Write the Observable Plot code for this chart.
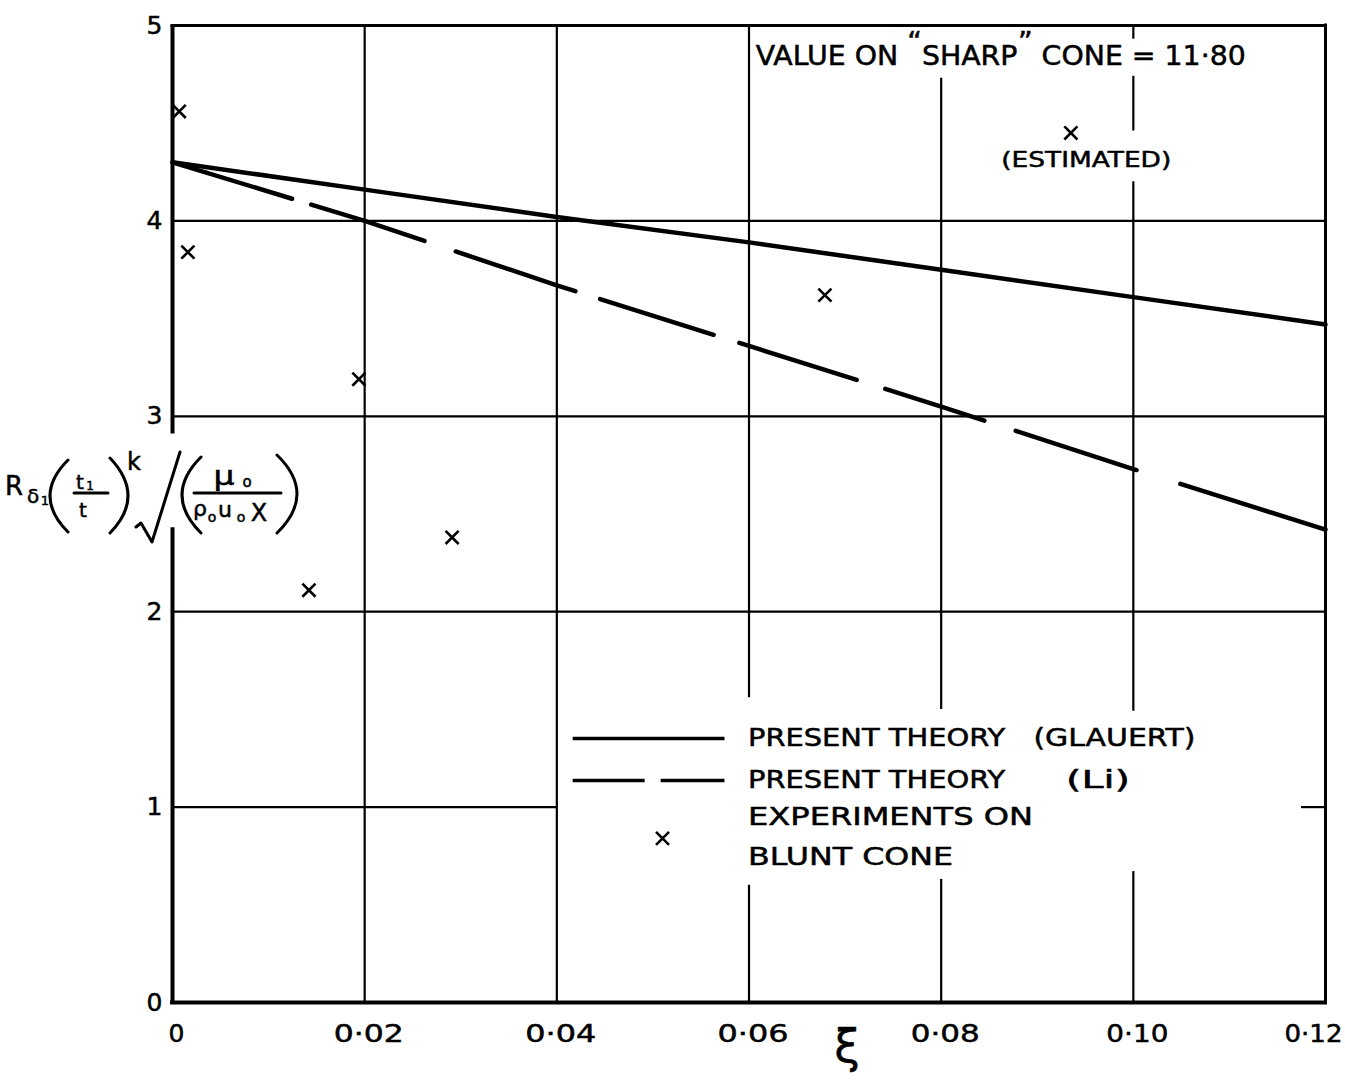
<!DOCTYPE html>
<html><head><meta charset="utf-8">
<script src="https://cdn.jsdelivr.net/npm/d3@7"></script>
<script src="https://cdn.jsdelivr.net/npm/@observablehq/plot@0.6"></script>
<style>
body{margin:0;background:#fff;}
#chart{width:1345px;height:1087px;}
</style></head><body><div id="chart"></div>
<script>
// ---------- data ----------
const xiTicks = [0, 0.02, 0.04, 0.06, 0.08, 0.10, 0.12];
const yTicks = [0, 1, 2, 3, 4, 5];

// Present theory (Glauert) – solid
const glauertXi = [0, 0.02, 0.04, 0.06, 0.08, 0.10, 0.12];
const glauertR  = [4.30, 4.16, 4.02, 3.89, 3.75, 3.61, 3.47];

// Present theory (Li) – dashed
const liXi = [0, 0.02, 0.04, 0.06, 0.08, 0.10, 0.12];
const liR  = [4.30, 4.00, 3.67, 3.36, 3.05, 2.73, 2.42];

// Experiments on blunt cone
const expXi = [0.0007, 0.0016, 0.0194, 0.0142, 0.0291, 0.0679];
const expR  = [4.56, 3.84, 3.19, 2.11, 2.38, 3.62];

// Estimated value
const estXi = [0.0935];
const estR  = [4.45];

const noteText = "VALUE ON “SHARP” CONE = 11·80";
const estText = "(ESTIMATED)";
const legendMain = ["PRESENT THEORY", "PRESENT THEORY", "EXPERIMENTS ON", "BLUNT CONE"];
const legendNote = ["(GLAUERT)", "(Li)"];
const xLabel = "ξ";

// ---------- layout (grid segments broken around the lettering) ----------
const vGrid = [
  [0.02, 0, 5], [0.04, 0, 5],
  [0.06, 0, 0.60], [0.06, 1.56, 5],
  [0.08, 0, 0.63], [0.08, 1.50, 4.73],
  [0.10, 0, 0.67], [0.10, 1.49, 4.20], [0.10, 4.46, 4.74], [0.10, 4.93, 5]
];
const hGrid = [
  [1, 0, 0.0400], [1, 0.1175, 0.12],
  [2, 0, 0.12], [3, 0, 0.12], [4, 0, 0.12]
];
const leftAxis = [[0, 2.43], [2.91, 5]];
const legendPos = {x1: 0.0417, x2: 0.0575, xText: 0.0599, rows: [1.351, 1.136, 0.947, 0.742],
                   noteX: [0.0896, 0.0930], markX: 0.0510, markY: 0.84};
// lettering widths (px) of the hand lettering
const textWidths = {
  "VALUE ON “SHARP” CONE = 11·80": 490, "(ESTIMATED)": 170,
  "PRESENT THEORY": 257, "(GLAUERT)": 162, "(Li)": 64,
  "EXPERIMENTS ON": 285, "BLUNT CONE": 205,
  "0·02": 70, "0·04": 71, "0·06": 71, "0·08": 69, "0·10": 62, "0·12": 58
};

const FONT = "DejaVu Sans, sans-serif";
const fmt = d => d === 0 ? "0" : d3.format(".2f")(d).replace(".", "·");

const chart = Plot.plot({
  width: 1345, height: 1087,
  marginLeft: 172, marginRight: 20, marginTop: 25, marginBottom: 85,
  x: {domain: [0, 0.12]},
  y: {domain: [0, 5]},
  style: {fontFamily: FONT, background: "white", color: "black"},
  marks: [
    // grid
    Plot.ruleX(vGrid, {x: d => d[0], y1: d => d[1], y2: d => d[2], stroke: "black", strokeWidth: 2.2}),
    Plot.ruleY(hGrid, {y: d => d[0], x1: d => d[1], x2: d => d[2], stroke: "black", strokeWidth: 2.2}),
    // frame
    Plot.ruleX(leftAxis, {x: () => 0, y1: d => d[0], y2: d => d[1], stroke: "black", strokeWidth: 4}),
    Plot.ruleY([0], {x1: () => 0, x2: () => 0.12, stroke: "black", strokeWidth: 4, strokeLinecap: "square"}),
    Plot.ruleY([5], {x1: () => 0, x2: () => 0.12, stroke: "black", strokeWidth: 3, strokeLinecap: "square"}),
    Plot.ruleX([0.12], {y1: () => 0, y2: () => 5, stroke: "black", strokeWidth: 3, strokeLinecap: "square"}),
    // theory curves
    Plot.line(glauertR, {x: glauertXi, y: glauertR, stroke: "black", strokeWidth: 4.5}),
    Plot.line(liR, {x: liXi, y: liR, stroke: "black", strokeWidth: 4.5,
      strokeDasharray: "125,20,119,33,126,26,119,27,123,30,104,33,127,46,170"}),
    // experiments
    Plot.dot(expR, {x: expXi, y: expR, symbol: "times", r: 6, stroke: "black", strokeWidth: 2.6}),
    Plot.dot(estR, {x: estXi, y: estR, symbol: "times", r: 6, stroke: "black", strokeWidth: 2.6}),
    // annotations
    Plot.text([noteText], {x: () => 0.0607, y: () => 4.842, text: d => d, textAnchor: "start", fontSize: 26}),
    Plot.text([estText], {x: () => 0.0951, y: () => 4.31, text: d => d, fontSize: 22}),
    // legend
    Plot.ruleY([legendPos.rows[0]], {x1: () => legendPos.x1, x2: () => legendPos.x2, stroke: "black", strokeWidth: 3.5}),
    Plot.ruleY([legendPos.rows[1]], {x1: () => legendPos.x1, x2: () => legendPos.x2, stroke: "black", strokeWidth: 3.5, strokeDasharray: "72,16"}),
    Plot.dot([legendPos.markY], {x: () => legendPos.markX, y: d => d, symbol: "times", r: 6, stroke: "black", strokeWidth: 2.6}),
    Plot.text(legendMain, {x: () => legendPos.xText, y: (d, i) => legendPos.rows[i], text: d => d, textAnchor: "start", fontSize: 24}),
    Plot.text(legendNote, {x: (d, i) => legendPos.noteX[i], y: (d, i) => legendPos.rows[i], text: d => d, textAnchor: "start", fontSize: 24}),
    // axes
    Plot.axisX(xiTicks, {tickSize: 0, tickPadding: 22, fontSize: 25, tickFormat: fmt, dx: 4}),
    Plot.axisY(yTicks, {tickSize: 0, tickPadding: 10, fontSize: 25, tickFormat: d => String(d)}),
    Plot.text([xLabel], {x: () => 0.0702, y: () => 0, text: d => d, fontSize: 46, dy: 45})
  ]
});
document.getElementById("chart").appendChild(chart);

const svg = d3.select(chart);
// hand lettering: wide letters, slightly heavy strokes
svg.selectAll("text").each(function () {
  const s = this.textContent;
  const el = d3.select(this).attr("stroke", "black").attr("stroke-width", 0.5);
  if (textWidths[s] != null) {
    el.attr("textLength", textWidths[s]).attr("lengthAdjust", "spacingAndGlyphs");
  }
});
// last tick label sits against the right edge of the sheet
svg.selectAll("text").filter(function () { return this.textContent === "0·12"; })
  .attr("text-anchor", "end").attr("dx", 13);
// raised quotation marks in the note
svg.selectAll("text").filter(function () { return this.textContent === noteText; }).each(function () {
  const el = d3.select(this);
  el.text(null);
  el.append("tspan").text("VALUE ON ");
  el.append("tspan").attr("dy", -14).text("“");
  el.append("tspan").attr("dy", 14).text("SHARP");
  el.append("tspan").attr("dy", -14).text("”");
  el.append("tspan").attr("dy", 14).text(" CONE = 11·80");
});

// ---------- y-axis label:  R_δ1 (t1/t)^k √(μ0/(ρ0 u0 X)) ----------
const g = svg.append("g").attr("aria-label", "y-axis label").attr("fill", "black")
  .attr("stroke", "black").attr("stroke-width", 0.5).attr("font-family", FONT);
const t = (x, y, s, size) => g.append("text").attr("x", x).attr("y", y).attr("font-size", size).text(s);
const p = d => g.append("path").attr("d", d).attr("fill", "none").attr("stroke", "black")
  .attr("stroke-width", 3).attr("stroke-linecap", "round").attr("stroke-linejoin", "round");
t(14, 495, "R", 26);
t(33, 503, "δ", 20);
t(45, 505, "1", 13);
p("M68,460 Q32,496 68,532");
t(80, 489, "t", 20); t(90, 490, "1", 12);
p("M74,493 L108,493");
t(83, 517, "t", 20);
p("M110,458 Q146,496 110,533");
t(134, 470, "k", 24);
p("M136,527 L141,523 L152,542 L180,452");
p("M201,457 Q163,495 201,533");
g.append("text").attr("x", 224).attr("y", 485).attr("font-size", 26)
  .attr("textLength", 21).attr("lengthAdjust", "spacingAndGlyphs").text("μ");
t(247, 487, "o", 15);
p("M194,493 L281,493");
t(200, 516, "ρ", 22); t(212, 522, "o", 14);
t(225, 517, "u", 22); t(241, 522, "o", 14);
t(259, 521, "X", 24);
p("M277,455 Q317,494 277,533");
</script></body></html>
